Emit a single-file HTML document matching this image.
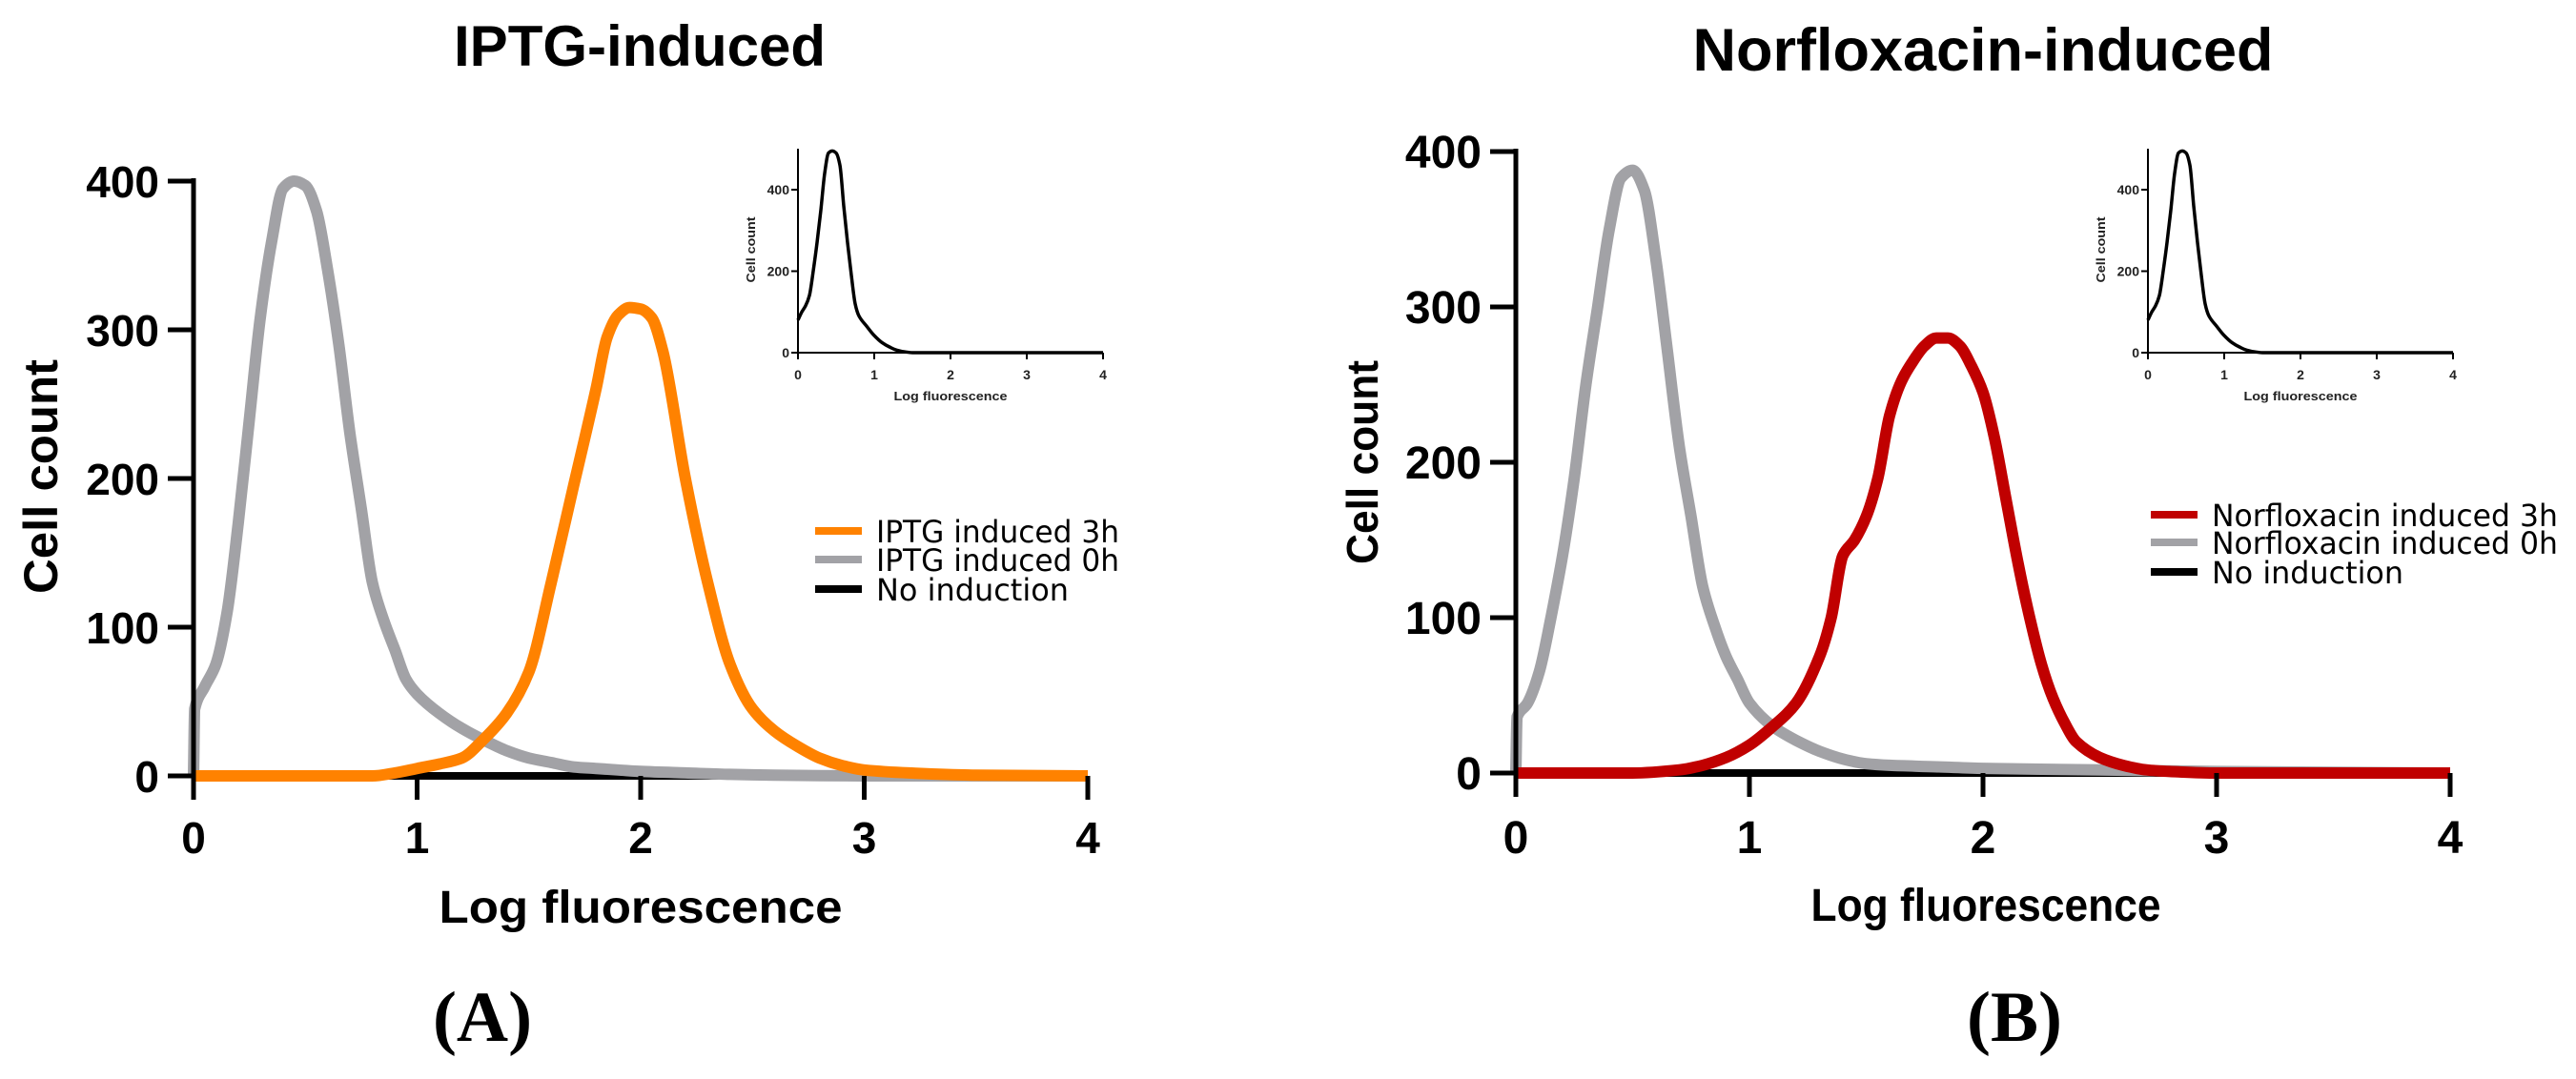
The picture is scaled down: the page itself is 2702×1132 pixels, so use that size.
<!DOCTYPE html>
<html><head><meta charset="utf-8"><style>
html,body{margin:0;padding:0;background:#fff;}
svg{display:block;}
</style></head><body>
<svg id="fig" width="2702" height="1132" viewBox="0 0 2702 1132" xmlns="http://www.w3.org/2000/svg" font-family="Liberation Sans, sans-serif"></svg>
<script>
// ---- data ----
const xTicks = [0,1,2,3,4];
const yTicks = [0,100,200,300,400];
const insetYTicks = [0,200,400];

const iptg3hX = [0,0.5,0.8,0.9,1.0,1.1,1.2,1.3,1.4,1.5,1.6,1.7,1.8,1.85,1.9,1.95,2.0,2.05,2.1,2.2,2.3,2.4,2.5,2.6,2.7,2.8,2.9,3.0,3.2,3.5,4];
const iptg3hY = [0,0,0,2,5,8,12,25,42,70,130,195,260,295,310,315,314,308,285,200,130,75,45,30,20,12,7,4,2,0.5,0];
const iptg0hX = [0,0.005,0.05,0.1,0.15,0.2,0.25,0.3,0.35,0.4,0.45,0.5,0.55,0.6,0.65,0.7,0.75,0.8,0.85,0.9,0.95,1.0,1.1,1.2,1.3,1.4,1.5,1.6,1.7,1.8,1.9,2.0,2.2,2.4,2.6,3,4];
const iptg0hY = [0,45,60,75,110,170,240,310,360,395,400,397,380,340,290,230,180,130,105,85,65,55,42,32,24,17,12,9,6,5,4,3,2,1,0.5,0,0];

const norf3hX = [0,0.5,0.7,0.8,0.9,1.0,1.1,1.2,1.3,1.35,1.4,1.45,1.5,1.55,1.6,1.65,1.7,1.75,1.8,1.85,1.9,1.95,2.0,2.05,2.1,2.15,2.2,2.25,2.3,2.35,2.4,2.5,2.6,2.7,2.8,3,4];
const norf3hY = [0,0,2,5,10,18,30,45,75,100,140,150,165,190,230,252,265,275,280,280,275,262,245,215,175,135,100,70,48,32,20,10,5,2,1,0,0];
const norf0hX = [0,0.005,0.05,0.1,0.15,0.2,0.25,0.3,0.35,0.4,0.45,0.5,0.55,0.6,0.65,0.7,0.75,0.8,0.85,0.9,0.95,1.0,1.1,1.2,1.3,1.4,1.5,1.6,1.8,2.0,2.5,3,4];
const norf0hY = [0,36,45,65,100,140,190,250,300,350,383,388,375,330,270,210,165,120,95,75,60,45,30,21,14,9,6,5,4,3,2,1,0];

const noIndX = [0,4];
const noIndY = [0,0];

const insetX = [0,0.05,0.1,0.15,0.2,0.25,0.3,0.35,0.4,0.45,0.5,0.55,0.6,0.65,0.7,0.75,0.8,0.9,1.0,1.1,1.2,1.3,1.4,1.5,4];
const insetY = [80,100,115,140,200,270,350,440,490,495,490,460,360,270,190,120,90,65,42,25,14,6,2,0,0];

// ---- drawing ----
const NS = "http://www.w3.org/2000/svg";
const svg = document.getElementById('fig');
function el(tag, attrs, parent, text){
  const e = document.createElementNS(NS, tag);
  for (const k in attrs) e.setAttribute(k, attrs[k]);
  if (text !== undefined) e.textContent = text;
  (parent || svg).appendChild(e);
  return e;
}
function axisFns(x0, unit, y0, perCount){
  return { sx: v => x0 + v*unit, sy: v => y0 - v*perCount };
}
// monotone cubic path
function linePath(xs, ys, ax){
  const X = xs.map(ax.sx), Y = ys.map(ax.sy), n = X.length;
  if (n < 3) return X.map((v,i)=>(i?'L':'M')+v.toFixed(1)+','+Y[i].toFixed(1)).join('');
  const d = [], m = new Array(n);
  for (let i=0;i<n-1;i++) d.push((Y[i+1]-Y[i])/((X[i+1]-X[i])||1e-6));
  m[0]=d[0]; m[n-1]=d[n-2];
  for (let i=1;i<n-1;i++){
    if (d[i-1]*d[i] <= 0) m[i]=0;
    else m[i] = 2/(1/d[i-1]+1/d[i]);
  }
  let p = 'M'+X[0].toFixed(1)+','+Y[0].toFixed(1);
  for (let i=0;i<n-1;i++){
    const h = (X[i+1]-X[i])/3;
    p += 'C'+(X[i]+h).toFixed(1)+','+(Y[i]+m[i]*h).toFixed(1)+' '+(X[i+1]-h).toFixed(1)+','+(Y[i+1]-m[i+1]*h).toFixed(1)+' '+X[i+1].toFixed(1)+','+Y[i+1].toFixed(1);
  }
  return p;
}

function drawPanel(cfg){
  const g = el('g', {});
  
  
  const ax = axisFns(cfg.x0, cfg.unit, cfg.y0, cfg.pc);
  const t = el('text',{x:cfg.titleX,y:cfg.titleY,'text-anchor':'middle','font-size':cfg.titleSize,'font-weight':'bold'},g,cfg.title);
  
  
  cfg.series.forEach(s=>{
    const p = el('path',{d:linePath(s.x,s.y,ax),fill:'none',stroke:s.color,'stroke-width':s.w,'stroke-linejoin':'round','stroke-linecap':'butt'},g);
    
    
  });
  const yAxis = el('line',{x1:ax.sx(0),y1:ax.sy(400)-3,x2:ax.sx(0),y2:ax.sy(0)+25,stroke:'#000','stroke-width':5},g);
  
  
  yTicks.forEach(v=>{
    el('line',{x1:ax.sx(0)-27,y1:ax.sy(v),x2:ax.sx(0),y2:ax.sy(v),stroke:'#000','stroke-width':5},g);
    const tl = el('text',{x:ax.sx(0)-36,y:ax.sy(v)+17,'text-anchor':'end','font-size':cfg.tickSize,'font-weight':'bold'},g,String(v));
    
    
  });
  xTicks.forEach(v=>{
    el('line',{x1:ax.sx(v),y1:ax.sy(0),x2:ax.sx(v),y2:ax.sy(0)+25,stroke:'#000','stroke-width':5},g);
    const tl = el('text',{x:ax.sx(v),y:cfg.xLabY,'text-anchor':'middle','font-size':cfg.tickSize,'font-weight':'bold'},g,String(v));
    
    
  });
  const xt = el('text',{x:cfg.xTitleX,y:cfg.xTitleY,'text-anchor':'middle','font-size':48,'font-weight':'bold',textLength:cfg.xTitleLen,lengthAdjust:'spacingAndGlyphs'},g,'Log fluorescence');
  
  
  const yt = el('text',{transform:`translate(${cfg.yTitleX},${cfg.yTitleY}) rotate(-90)`,'text-anchor':'middle','font-size':cfg.yTitleSize,'font-weight':'bold',textLength:cfg.yTitleLen,lengthAdjust:'spacingAndGlyphs'},g,'Cell count');
  
  
  const pl = el('text',{x:cfg.panelX,y:1092,'text-anchor':'middle','font-size':75,'font-weight':'bold','font-family':'Liberation Serif, serif'},g,cfg.panelLabel);
  
  
  cfg.legend.forEach((L,i)=>{
    const lg = el('g',{},g);
    
    
    el('line',{x1:cfg.legX,y1:L.y,x2:cfg.legX+49,y2:L.y,stroke:L.color,'stroke-width':8},lg);
    el('text',{x:cfg.legX+64,y:L.y+12,'font-size':32,'font-family':'DejaVu Sans, sans-serif',textLength:L.len,lengthAdjust:'spacingAndGlyphs'},lg,L.label);
  });
  const ig = el('g',{},g);
  
  
  const ia = axisFns(cfg.ix0, 80, 370, 0.4275);
  const ip = el('path',{d:linePath(insetX,insetY,ia),fill:'none',stroke:'#000','stroke-width':3.5,'stroke-linejoin':'round'},ig);
  
  
  el('line',{x1:ia.sx(0),y1:156,x2:ia.sx(0),y2:ia.sy(0)+6,stroke:'#000','stroke-width':2},ig);
  el('line',{x1:ia.sx(0),y1:ia.sy(0),x2:ia.sx(4),y2:ia.sy(0),stroke:'#000','stroke-width':2},ig);
  insetYTicks.forEach(v=>{
    el('line',{x1:ia.sx(0)-7,y1:ia.sy(v),x2:ia.sx(0),y2:ia.sy(v),stroke:'#000','stroke-width':2},ig);
    el('text',{x:ia.sx(0)-9,y:ia.sy(v)+5,'text-anchor':'end','font-size':14,'font-weight':'bold',fill:'#222'},ig,String(v));
  });
  xTicks.forEach(v=>{
    el('line',{x1:ia.sx(v),y1:ia.sy(0),x2:ia.sx(v),y2:ia.sy(0)+7,stroke:'#000','stroke-width':2},ig);
    el('text',{x:ia.sx(v),y:398,'text-anchor':'middle','font-size':14,'font-weight':'bold',fill:'#222'},ig,String(v));
  });
  el('text',{x:ia.sx(2),y:420,'text-anchor':'middle','font-size':13,'font-weight':'bold',fill:'#222',textLength:119,lengthAdjust:'spacingAndGlyphs'},ig,'Log fluorescence');
  el('text',{transform:`translate(${ia.sx(0)-45},262) rotate(-90)`,'text-anchor':'middle','font-size':13,'font-weight':'bold',fill:'#222',textLength:69,lengthAdjust:'spacingAndGlyphs'},ig,'Cell count');
}

drawPanel({
  name:'panel-a-iptg', title:'IPTG-induced', titleX:671, titleY:69, titleSize:60,
  x0:203, unit:234.5, y0:814, pc:1.56, tickSize:46, xLabY:895,
  xTitleX:672, xTitleY:968, xTitleLen:423,
  yTitleX:60, yTitleY:500, yTitleSize:50, yTitleLen:246,
  panelX:506, panelLabel:'(A)',
  series:[
    {name:'no-induction-line', x:noIndX, y:noIndY, color:'#000', w:8},
    {name:'iptg-0h-line', x:iptg0hX, y:iptg0hY, color:'#a2a2a6', w:12},
    {name:'iptg-3h-line', x:iptg3hX, y:iptg3hY, color:'#ff8200', w:12}
  ],
  legX:855,
  legend:[
    {label:'IPTG induced 3h', color:'#ff8200', y:557, len:255},
    {label:'IPTG induced 0h', color:'#a2a2a6', y:587, len:255},
    {label:'No induction', color:'#000', y:618, len:202}
  ],
  ix0:837
});
drawPanel({
  name:'panel-b-norfloxacin', title:'Norfloxacin-induced', titleX:2080, titleY:74, titleSize:63,
  x0:1590, unit:245, y0:811, pc:1.63, tickSize:48, xLabY:895,
  xTitleX:2083, xTitleY:966, xTitleLen:367,
  yTitleX:1445, yTitleY:485, yTitleSize:46, yTitleLen:214,
  panelX:2113, panelLabel:'(B)',
  series:[
    {name:'no-induction-line', x:noIndX, y:noIndY, color:'#000', w:8},
    {name:'norfloxacin-0h-line', x:norf0hX, y:norf0hY, color:'#a2a2a6', w:12},
    {name:'norfloxacin-3h-line', x:norf3hX, y:norf3hY, color:'#c00000', w:12}
  ],
  legX:2256,
  legend:[
    {label:'Norfloxacin induced 3h', color:'#c00000', y:540, len:363},
    {label:'Norfloxacin induced 0h', color:'#a2a2a6', y:569, len:363},
    {label:'No induction', color:'#000', y:600, len:201}
  ],
  ix0:2253
});
</script>
</body></html>
